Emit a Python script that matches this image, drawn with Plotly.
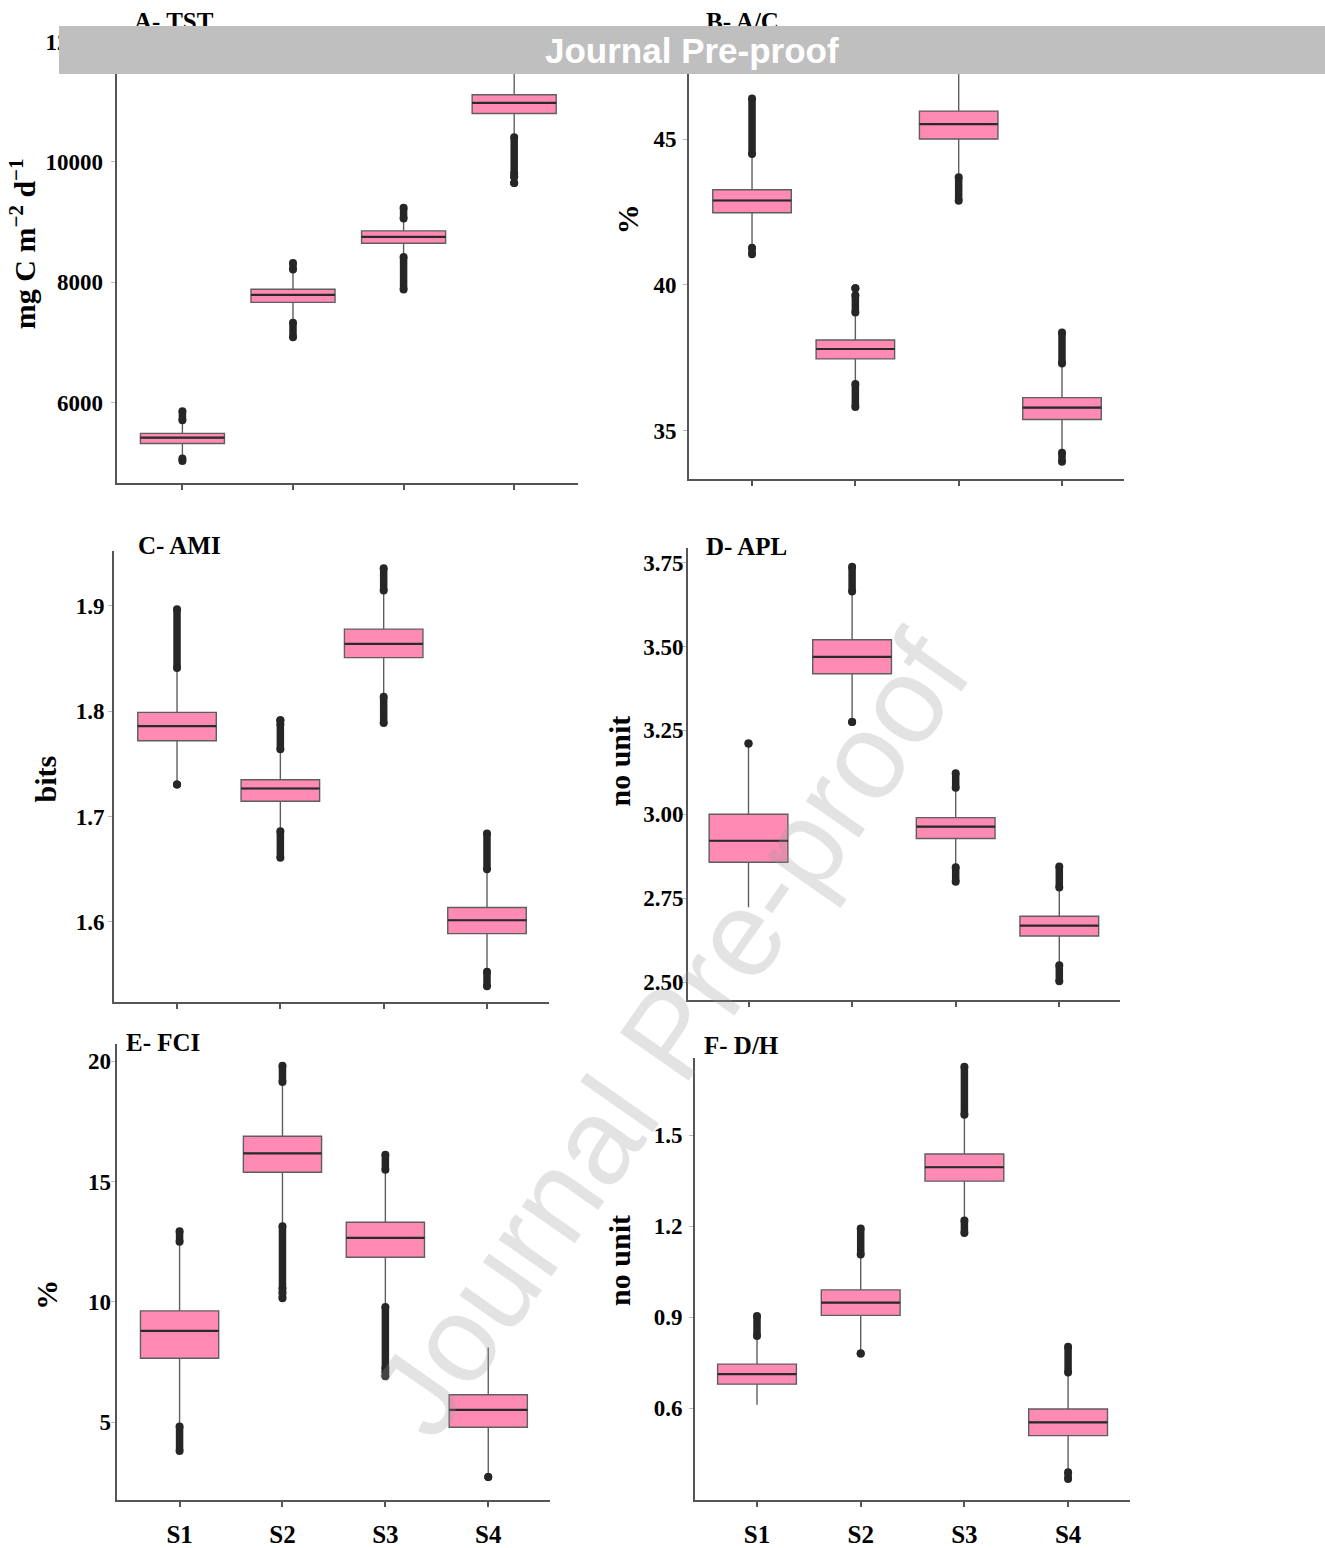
import plotly.graph_objects as go

# ---------------------------------------------------------------
# Summary statistics for the four scenarios (S1..S4), one block per index
# ---------------------------------------------------------------
CATEGORIES = ["S1", "S2", "S3", "S4"]

# A - TST (mg C m-2 d-1)
TST_Q1 = [5324, 7668, 8649, 10806]
TST_MEDIAN = [5422, 7793, 8757, 10981]
TST_Q3 = [5493, 7886, 8856, 11117]
TST_LOW = [5090, 7345, 8430, 10436]
TST_HIGH = [5695, 8195, 9050, 11580]
TST_OUTLIERS = [[(5035, 5075), (5710, 5858)],
                [(7090, 7330), (8215, 8322)],
                [(7880, 8420), (9060, 9240)],
                [(9810, 10410), (9755, 9755), (9650, 9650)]]
TST_TICKS = [6000, 8000, 10000, 12000]

# B - A/C (%)
AC_Q1 = [42.48, 37.46, 45.01, 35.38]
AC_MEDIAN = [42.90, 37.80, 45.52, 35.79]
AC_Q3 = [43.27, 38.11, 45.97, 36.13]
AC_LOW = [41.35, 36.65, 43.75, 34.30]
AC_HIGH = [44.45, 38.98, 47.40, 37.25]
AC_OUTLIERS = [[(41.05, 41.28), (44.50, 46.40)],
               [(35.81, 36.60), (39.05, 39.65), (39.89, 39.89)],
               [(42.89, 43.70)],
               [(33.93, 34.24), (37.30, 38.37)]]
AC_TICKS = [35, 40, 45]

# C - AMI (bits)
AMI_Q1 = [1.772, 1.7146, 1.851, 1.5889]
AMI_MEDIAN = [1.786, 1.7267, 1.864, 1.6016]
AMI_Q3 = [1.799, 1.735, 1.878, 1.6137]
AMI_LOW = [1.733, 1.688, 1.815, 1.553]
AMI_HIGH = [1.839, 1.762, 1.913, 1.649]
AMI_OUTLIERS = [[(1.7305, 1.7305), (1.841, 1.897)],
                [(1.661, 1.686), (1.764, 1.788), (1.7914, 1.7914)],
                [(1.789, 1.8137), (1.9146, 1.9359)],
                [(1.539, 1.5527), (1.650, 1.684)]]
AMI_TICKS = [1.6, 1.7, 1.8, 1.9]

# D - APL (no unit)
APL_Q1 = [2.857, 3.419, 2.928, 2.637]
APL_MEDIAN = [2.921, 3.469, 2.963, 2.668]
APL_Q3 = [3.000, 3.520, 2.990, 2.696]
APL_LOW = [2.723, 3.280, 2.844, 2.552]
APL_HIGH = [3.205, 3.662, 3.077, 2.780]
APL_OUTLIERS = [[(3.211, 3.211)],
                [(3.275, 3.275), (3.664, 3.738)],
                [(2.799, 2.842), (3.079, 3.122)],
                [(2.502, 2.550), (2.782, 2.844)]]
APL_TICKS = [2.50, 2.75, 3.00, 3.25, 3.50, 3.75]

# E - FCI (%)
FCI_Q1 = [7.66, 15.39, 11.86, 4.80]
FCI_MEDIAN = [8.80, 16.17, 12.66, 5.52]
FCI_Q3 = [9.63, 16.88, 13.31, 6.15]
FCI_LOW = [4.85, 13.20, 9.85, 2.80]
FCI_HIGH = [12.45, 19.10, 15.45, 8.11]
FCI_OUTLIERS = [[(3.81, 4.83), (12.50, 12.94)],
                [(10.55, 13.14), (10.15, 10.40), (19.14, 19.81)],
                [(7.25, 9.79), (6.92, 7.10), (15.49, 16.11)],
                [(2.73, 2.73)]]
FCI_TICKS = [5, 10, 15, 20]

# F - D/H (no unit)
DH_Q1 = [0.679, 0.906, 1.349, 0.509]
DH_MEDIAN = [0.712, 0.948, 1.395, 0.553]
DH_Q3 = [0.745, 0.990, 1.4385, 0.597]
DH_LOW = [0.611, 0.785, 1.221, 0.390]
DH_HIGH = [0.836, 1.105, 1.566, 0.715]
DH_OUTLIERS = [[(0.838, 0.904)],
               [(0.780, 0.780), (1.107, 1.193)],
               [(1.178, 1.219), (1.568, 1.727)],
               [(0.366, 0.388), (0.717, 0.802)]]
DH_TICKS = [0.6, 0.9, 1.2, 1.5]

# ---------------------------------------------------------------
# Page geometry (pixels) and styling
# ---------------------------------------------------------------
W, H = 1325, 1548
BOX_W = 0.76
PINK = "#ff8bb4"
EDGE = "#5e5e5e"
AXIS = "#555555"
SERIF = "Liberation Serif"

panels = [
    dict(title="A- TST", ytitle="mg C m<sup>\u22122</sup> d<sup>\u22121</sup>",
         q1=TST_Q1, med=TST_MEDIAN, q3=TST_Q3, lo=TST_LOW, hi=TST_HIGH, out=TST_OUTLIERS,
         ticks=TST_TICKS, fmt="{:.0f}", standoff=3,
         px=(116.5, 578), py=(30, 482.7), xr=(-0.596, 3.577), yr=(4666, 12160),
         tpos=(132, 20), ypos=(23, 243), labels=False),
    dict(title="B- A/C", ytitle="%",
         q1=AC_Q1, med=AC_MEDIAN, q3=AC_Q3, lo=AC_LOW, hi=AC_HIGH, out=AC_OUTLIERS,
         ticks=AC_TICKS, fmt="{:.0f}", standoff=2,
         px=(689, 1124), py=(30, 479), xr=(-0.61, 3.60), yr=(33.32, 48.69),
         tpos=(704, 20), ypos=(627, 218), labels=False),
    dict(title="C- AMI", ytitle="bits",
         q1=AMI_Q1, med=AMI_MEDIAN, q3=AMI_Q3, lo=AMI_LOW, hi=AMI_HIGH, out=AMI_OUTLIERS,
         ticks=AMI_TICKS, fmt="{:.1f}", standoff=-1,
         px=(114, 549), py=(551, 1003), xr=(-0.61, 3.60), yr=(1.5242, 1.952),
         tpos=(136, 545), ypos=(45, 780), labels=False),
    dict(title="D- APL", ytitle="no unit",
         q1=APL_Q1, med=APL_MEDIAN, q3=APL_Q3, lo=APL_LOW, hi=APL_HIGH, out=APL_OUTLIERS,
         ticks=APL_TICKS, fmt="{:.2f}", standoff=-6,
         px=(688, 1120), py=(548, 1001.7), xr=(-0.584, 3.586), yr=(2.445, 3.793),
         tpos=(704, 546), ypos=(620, 762), labels=False),
    dict(title="E- FCI", ytitle="%",
         q1=FCI_Q1, med=FCI_MEDIAN, q3=FCI_Q3, lo=FCI_LOW, hi=FCI_HIGH, out=FCI_OUTLIERS,
         ticks=FCI_TICKS, fmt="{:.0f}", standoff=-5,
         px=(116.5, 550), py=(1045, 1503), xr=(-0.613, 3.60), yr=(1.77, 20.73),
         tpos=(124, 1044), ypos=(47, 1297), labels=True),
    dict(title="F- D/H", ytitle="no unit",
         q1=DH_Q1, med=DH_MEDIAN, q3=DH_Q3, lo=DH_LOW, hi=DH_HIGH, out=DH_OUTLIERS,
         ticks=DH_TICKS, fmt="{:.1f}", standoff=2,
         px=(695, 1130), py=(1059, 1503), xr=(-0.598, 3.597), yr=(0.296, 1.757),
         tpos=(702, 1047), ypos=(620, 1263), labels=True),
]

fig = go.Figure()
layout = {}
annotations = []
positions = list(range(len(CATEGORIES)))

for k, p in enumerate(panels, start=1):
    sfx = "" if k == 1 else str(k)
    xa, ya = "x" + sfx, "y" + sfx

    # boxes with whiskers
    fig.add_trace(go.Box(
        x=positions, q1=p["q1"], median=p["med"], q3=p["q3"],
        lowerfence=p["lo"], upperfence=p["hi"],
        width=BOX_W, whiskerwidth=0, boxpoints=False,
        fillcolor=PINK, line=dict(color=EDGE, width=1.4),
        xaxis=xa, yaxis=ya, hoverinfo="skip",
    ))

    # bold median bars
    mx, my = [], []
    for i, m in zip(positions, p["med"]):
        mx += [i - BOX_W / 2, i + BOX_W / 2, None]
        my += [m, m, None]
    fig.add_trace(go.Scatter(x=mx, y=my, mode="lines",
                             line=dict(color="#2a2a2a", width=2.2),
                             xaxis=xa, yaxis=ya, hoverinfo="skip"))

    # outlier runs (dense point clusters drawn as rounded bars)
    ox, oy = [], []
    for i, runs in zip(positions, p["out"]):
        for lo, hi in runs:
            ox += [i, i, None]
            oy += [lo, hi, None]
    fig.add_trace(go.Scatter(x=ox, y=oy, mode="lines+markers",
                             line=dict(color="#262626", width=7.5),
                             marker=dict(color="#262626", size=8),
                             xaxis=xa, yaxis=ya, hoverinfo="skip"))

    x0, x1 = p["px"]
    y0, y1 = p["py"]
    layout["xaxis" + sfx] = dict(
        domain=[x0 / W, x1 / W], range=list(p["xr"]), anchor=ya,
        showline=True, linecolor=AXIS, linewidth=2, mirror=False,
        showgrid=False, zeroline=False,
        tickmode="array", tickvals=positions, ticktext=CATEGORIES,
        ticks="outside", ticklen=5, tickwidth=2, tickcolor=AXIS,
        showticklabels=p["labels"], ticklabelstandoff=6,
        tickfont=dict(family=SERIF, size=25, color="black", weight="bold"),
    )
    layout["yaxis" + sfx] = dict(
        domain=[1 - y1 / H, 1 - y0 / H], range=list(p["yr"]), anchor=xa,
        showline=True, linecolor=AXIS, linewidth=2, mirror=False,
        showgrid=False, zeroline=False,
        tickmode="array", tickvals=p["ticks"],
        ticktext=[p["fmt"].format(t) for t in p["ticks"]],
        ticks="outside", ticklen=4, tickwidth=1, tickcolor="#b8b8b8",
        ticklabelstandoff=p["standoff"],
        tickfont=dict(family=SERIF, size=23, color="black", weight="bold"),
    )

    annotations.append(dict(
        text=p["title"], xref="paper", yref="paper",
        x=p["tpos"][0] / W, y=1 - p["tpos"][1] / H,
        xanchor="left", yanchor="middle", showarrow=False,
        font=dict(family=SERIF, size=25, color="black", weight="bold"),
    ))
    annotations.append(dict(
        text=p["ytitle"], xref="paper", yref="paper",
        x=p["ypos"][0] / W, y=1 - p["ypos"][1] / H,
        xanchor="center", yanchor="middle", showarrow=False, textangle=-90,
        font=dict(family=SERIF, size=30, color="black", weight="bold"),
    ))

# diagonal watermark
annotations.append(dict(
    text="Journal Pre-proof", xref="paper", yref="paper",
    x=670 / W, y=1 - 1035 / H, xanchor="center", yanchor="middle",
    showarrow=False, textangle=-55,
    font=dict(family="Liberation Sans", size=122, color="rgba(150,150,150,0.27)"),
))

# grey banner across the top
annotations.append(dict(
    text="<b>Journal Pre-proof</b>", xref="paper", yref="paper",
    x=59 / W, y=1 - 24 / H, xanchor="left", yanchor="top",
    width=W - 59, height=48, align="center", valign="middle",
    bgcolor="#bfbfbf", borderpad=0, borderwidth=0, showarrow=False,
    font=dict(family="Liberation Sans", size=35, color="white"),
))

fig.update_layout(
    width=W, height=H, margin=dict(l=0, r=0, t=0, b=0),
    paper_bgcolor="white", plot_bgcolor="white",
    showlegend=False, annotations=annotations, **layout,
)

fig.write_html("out.html")
